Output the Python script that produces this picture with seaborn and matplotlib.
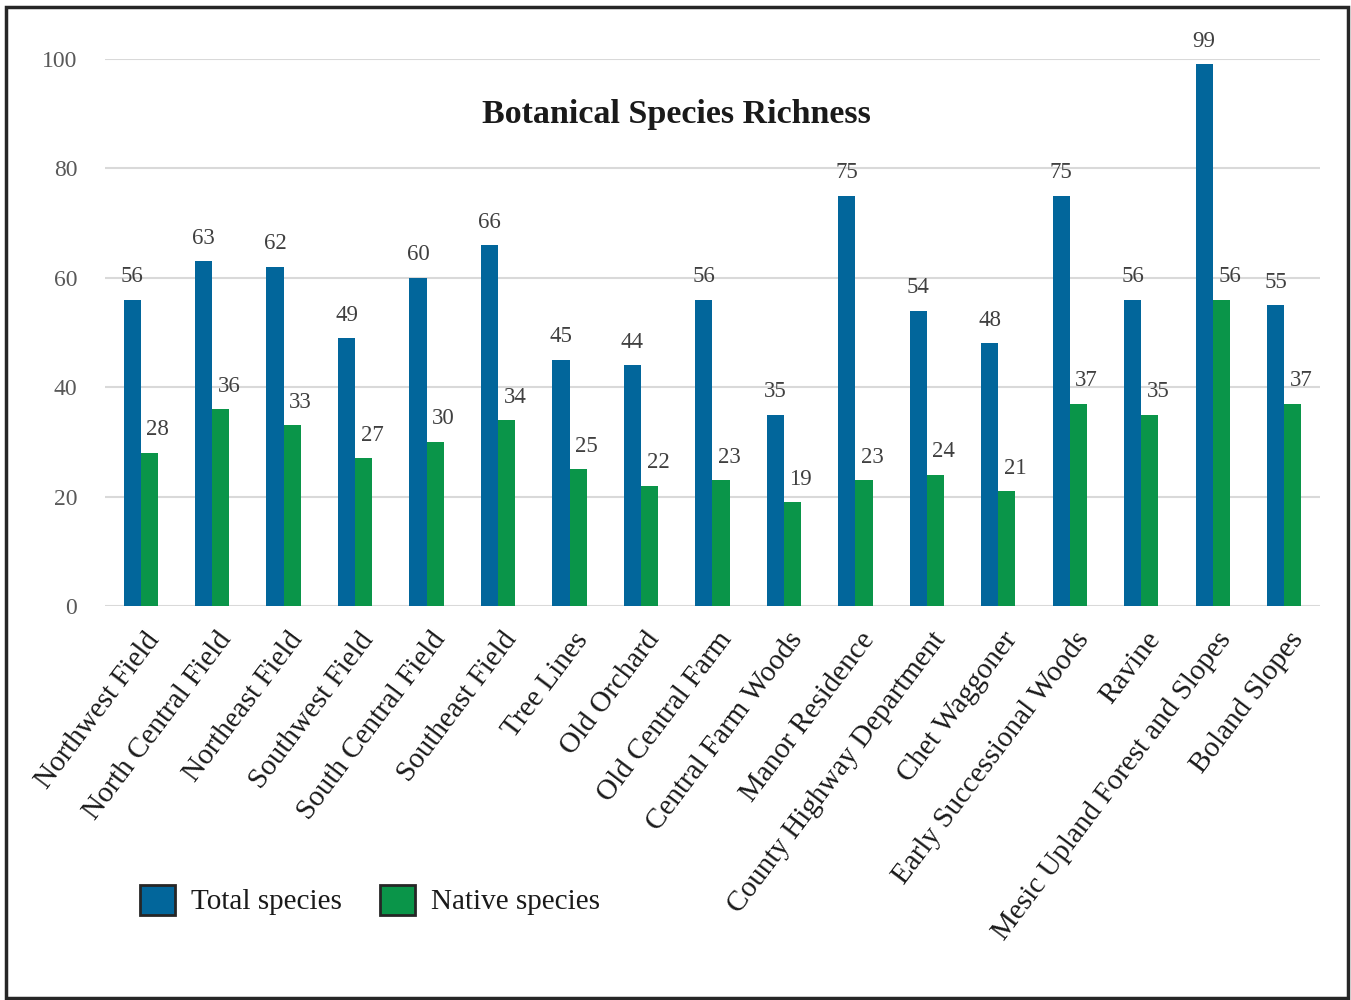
import matplotlib
matplotlib.use("Agg")
import matplotlib.pyplot as plt
from matplotlib.patches import Patch, Rectangle
from matplotlib.transforms import ScaledTranslation
import seaborn as sns
import pandas as pd

sites = [
    "Northwest Field", "North Central Field", "Northeast Field", "Southwest Field",
    "South Central Field", "Southeast Field", "Tree Lines", "Old Orchard",
    "Old Central Farm", "Central Farm Woods", "Manor Residence",
    "County Highway Department", "Chet Waggoner", "Early Successional Woods",
    "Ravine", "Mesic Upland Forest and Slopes", "Boland Slopes",
]
total_species = [56, 63, 62, 49, 60, 66, 45, 44, 56, 35, 75, 54, 48, 75, 56, 99, 55]
native_species = [28, 36, 33, 27, 30, 34, 25, 22, 23, 19, 23, 24, 21, 37, 35, 56, 37]
series_names = ["Total species", "Native species"]
series_colors = ["#02669B", "#0A9549"]
y_ticks = [0, 20, 40, 60, 80, 100]

df = pd.DataFrame({
    "Site": sites * 2,
    "Series": [series_names[0]] * len(sites) + [series_names[1]] * len(sites),
    "Species": total_species + native_species,
})

sns.set_theme(style="white")
plt.rcParams["font.family"] = ["Liberation Serif", "DejaVu Serif"]

fig = plt.figure(figsize=(13.51, 10.0), dpi=100)
ax = fig.add_axes([0.0777, 0.394, 0.8993, 0.547])

sns.barplot(
    data=df, x="Site", y="Species", hue="Series",
    palette=dict(zip(series_names, series_colors)),
    width=0.48, gap=0, linewidth=0, saturation=1, legend=False, ax=ax,
)

ax.set_ylim(0, 100)
ax.set_xlim(-0.5, len(sites) - 0.5)
ax.set_yticks(y_ticks)
ax.set_yticklabels([str(t) for t in y_ticks], fontsize=17, color="#595959")
ax.tick_params(axis="y", length=0, pad=20)
ax.tick_params(axis="x", length=0, pad=21)
ax.yaxis.grid(True, color="#d9d9d9", linewidth=1.5)
ax.set_axisbelow(True)
for s in ax.spines.values():
    s.set_visible(False)
ax.set_xlabel("")
ax.set_ylabel("")
ax.set_xticks(range(len(sites)))
ax.set_xticklabels(sites, rotation=53, ha="right", va="center",
                   rotation_mode="anchor", fontsize=21, color="#1a1a1a")
shift = ScaledTranslation(0.14, 0, fig.dpi_scale_trans)
for lbl in ax.get_xticklabels():
    lbl.set_transform(lbl.get_transform() + shift)

# value labels above each bar
for container, values, dx in zip(ax.containers, [total_species, native_species], [0, 6]):
    for bar, v in zip(container, values):
        ax.annotate(str(v), (bar.get_x() + bar.get_width() / 2, v),
                    xytext=(dx, 16.5), textcoords="offset points",
                    ha="center", va="center", fontsize=16.5, color="#404040")

fig.text(0.501, 0.886, "Botanical Species Richness", ha="center", va="center",
         fontsize=24.5, fontweight="bold", color="#1a1a1a")

handles = [Patch(facecolor=c, edgecolor="#262626", linewidth=2) for c in series_colors]
fig.legend(handles, series_names, loc="center left",
           bbox_to_anchor=(0.093, 0.1), frameon=False, fontsize=21,
           handlelength=1.2, handleheight=1.2, handletextpad=0.55,
           columnspacing=1.3, ncol=2, labelcolor="#1a1a1a", borderpad=0)

fig.patches.append(Rectangle((0.0045, 0.002), 0.9935, 0.991, transform=fig.transFigure,
                             fill=False, edgecolor="#262626", linewidth=2.5))

fig.savefig("out.png", dpi=100)
